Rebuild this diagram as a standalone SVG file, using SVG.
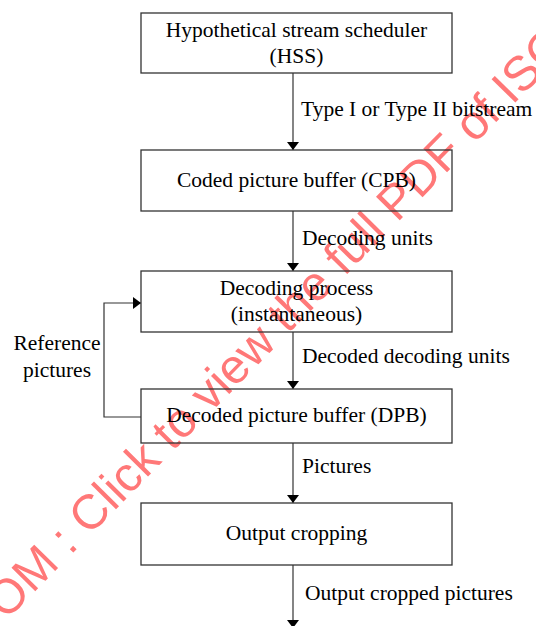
<svg xmlns="http://www.w3.org/2000/svg" width="536" height="626" viewBox="0 0 536 626">
  <defs>
    <marker id="arr" markerUnits="userSpaceOnUse" markerWidth="10" markerHeight="14" refX="8" refY="6" orient="auto">
      <path d="M0,0 L8,6 L0,12 z" fill="#000"/>
    </marker>
    <style>
      .box { fill: none; stroke: #333; stroke-width: 1.3; }
      .t { font-family: "Liberation Serif", "Times New Roman", serif; font-size: 21.5px; fill: #000; }
      .c { text-anchor: middle; }
      .ln { fill: none; stroke: #333; stroke-width: 1.2; marker-end: url(#arr); }
      .wm { font-family: "Liberation Sans", Arial, sans-serif; font-size: 48.5px; fill: #ff7878; }
    </style>
  </defs>
  <rect width="536" height="626" fill="#fff"/>
  <g id="watermark">
    <text class="wm" transform="translate(6,621) rotate(-45.5)">OM : Click to view the full PDF of ISO</text>
  </g>
  <g id="connectors">
    <path class="ln" d="M293,73 V150"/>
    <path class="ln" d="M293,211 V271"/>
    <path class="ln" d="M293,332 V389"/>
    <path class="ln" d="M293,443 V503"/>
    <path class="ln" d="M293,565 V628"/>
    <path class="ln" d="M141,417 H104 V303 H141"/>
    <text class="t" x="301" y="116">Type I or Type II bitstream</text>
    <text class="t" x="302" y="245">Decoding units</text>
    <text class="t" x="302" y="363">Decoded decoding units</text>
    <text class="t" x="302" y="473">Pictures</text>
    <text class="t" x="305" y="600">Output cropped pictures</text>
    <text class="t c" x="57" y="350">Reference</text>
    <text class="t c" x="57" y="377">pictures</text>
  </g>
  <g id="hss">
    <rect class="box" x="141" y="13" width="311" height="60"/>
    <text class="t c" x="296.5" y="37">Hypothetical stream scheduler</text>
    <text class="t c" x="296.5" y="63">(HSS)</text>
  </g>
  <g id="cpb">
    <rect class="box" x="141" y="150" width="311" height="61"/>
    <text class="t c" x="296.5" y="187">Coded picture buffer (CPB)</text>
  </g>
  <g id="decoding">
    <rect class="box" x="141" y="271" width="311" height="61"/>
    <text class="t c" x="296.5" y="295">Decoding process</text>
    <text class="t c" x="296.5" y="321">(instantaneous)</text>
  </g>
  <g id="dpb">
    <rect class="box" x="141" y="389" width="311" height="54"/>
    <text class="t c" x="296.5" y="422">Decoded picture buffer (DPB)</text>
  </g>
  <g id="crop">
    <rect class="box" x="141" y="503" width="311" height="62"/>
    <text class="t c" x="296.5" y="540">Output cropping</text>
  </g>
</svg>
